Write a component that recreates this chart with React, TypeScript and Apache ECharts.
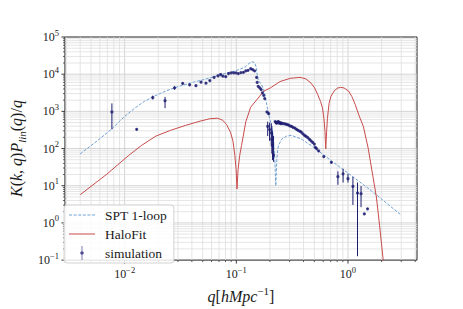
import React, { useEffect, useRef } from "react";
import * as echarts from "echarts";

// ---------- axis ranges & tick values ----------
const X_MIN = 0.00292;
const X_MAX = 4.15;
const Y_MIN = 0.1;
const Y_MAX = 1e5;
const xMajorTicks = [0.01, 0.1, 1];
const yMajorTicks = [0.1, 1, 10, 100, 1000, 10000, 100000];

// ---------- series names ----------
const seriesNames = ["SPT 1-loop", "HaloFit", "simulation"];

// ---------- SPT 1-loop (dashed blue) ----------
const sptQ = [0.004, 0.00568, 0.00769, 0.0098, 0.01231, 0.01497, 0.01786, 0.02198, 0.02762, 0.0336, 0.04136, 0.0503, 0.06036, 0.07095, 0.08173, 0.09605, 0.1084, 0.1217, 0.13, 0.139, 0.1453, 0.1507, 0.1538, 0.1575, 0.164, 0.1708, 0.1786, 0.1882, 0.1987, 0.2082, 0.2154, 0.2212, 0.2257, 0.2303, 0.2345, 0.2383, 0.2547, 0.2818, 0.3118, 0.3816, 0.4832, 0.7238, 1.084, 1.624, 2.976];
const sptV = [72.1, 161, 339, 693, 1220, 1850, 2450, 3260, 4260, 5090, 6100, 7060, 8200, 9520, 10720, 12080, 13610, 16070, 19450, 21630, 20640, 15520, 9800, 6860, 5740, 4800, 3160, 1430, 646, 394, 161, 49, 10, 49, 88.9, 120, 178, 217, 226, 181, 113, 44.8, 18.3, 7.28, 1.65];

// ---------- HaloFit (red) ----------
const haloQ = [0.004, 0.00695, 0.01078, 0.01409, 0.01908, 0.02584, 0.035, 0.0474, 0.058, 0.0681, 0.0754, 0.0817, 0.0886, 0.0932, 0.097, 0.0996, 0.1014, 0.1037, 0.1073, 0.1113, 0.1217, 0.1345, 0.1538, 0.1761, 0.2015, 0.2466, 0.3037, 0.3716, 0.4196, 0.467, 0.5031, 0.5346, 0.568, 0.5914, 0.6096, 0.6221, 0.6323, 0.6439, 0.6543, 0.6771, 0.7023, 0.7491, 0.8008, 0.856, 0.9224, 1.014, 1.084, 1.159, 1.249, 1.373, 1.519, 1.624, 1.796, 1.92, 2.057, 2.112];
const haloV = [5.74, 20.6, 64, 120, 217, 310, 418, 546, 634, 653, 580, 444, 275, 161, 66, 27, 8.2, 27, 66, 120, 530, 1295, 2120, 3500, 4260, 6350, 7730, 8200, 7500, 5740, 4260, 2860, 1850, 1220, 634, 292, 98, 292, 634, 1640, 2490, 3500, 4180, 4440, 4260, 3500, 2490, 1550, 804, 394, 100, 29.9, 5.0, 0.84, 0.115, 0.039];

// ---------- simulation (points with error bars) ----------
const simQ = [0.00769, 0.01282, 0.01786, 0.023, 0.028, 0.0331, 0.0382, 0.0435, 0.0483, 0.0535, 0.0579, 0.0632, 0.0686, 0.0724, 0.0758, 0.0804, 0.0851, 0.0899, 0.0947, 0.0994, 0.1042, 0.11, 0.1159, 0.1216, 0.1274, 0.1345, 0.1401, 0.1459, 0.152, 0.1538, 0.157, 0.1625, 0.1668, 0.1715, 0.1761, 0.1796, 0.1882, 0.1947, 0.191, 0.1986, 0.2055, 0.208, 0.2112, 0.2155, 0.2229, 0.2265, 0.2302, 0.234, 0.2382, 0.242, 0.2464, 0.2505, 0.2546, 0.263, 0.2727, 0.282, 0.2917, 0.301, 0.3119, 0.322, 0.3342, 0.346, 0.3573, 0.37, 0.3819, 0.395, 0.4087, 0.422, 0.4368, 0.452, 0.467, 0.483, 0.4995, 0.5101, 0.5236, 0.546, 0.607, 0.7098, 0.8125, 0.9036, 1.0, 1.107, 1.217, 1.309, 1.401, 1.497];
const simV = [962, 329, 2350, 1930, 4260, 5640, 5190, 4890, 6100, 5740, 6740, 8200, 9070, 9800, 8860, 8560, 10400, 10850, 10850, 10850, 10400, 11050, 11250, 12230, 12680, 14030, 13220, 12230, 8200, 5990, 4710, 4260, 3850, 3160, 2690, 2210, 962, 869, 394, 323, 264, 178, 120, 66, 530, 500, 480, 515, 530, 485, 499, 465, 480, 470, 462, 445, 436, 410, 394, 372, 356, 330, 310, 292, 275, 248, 226, 212, 196, 176, 161, 146, 132, 108, 100, 86, 61, 42.7, 17.5, 20.9, 15.5, 9.64, 6.35, 6.09, 1.75, 2.39];
const simLo = [329, 315, 2100, 1220, 3850, 5300, 4900, 4600, 5800, 5450, 6400, 7800, 8650, 9350, 8450, 8150, 9950, 10400, 10400, 10400, 9950, 10600, 10800, 11700, 12150, 13450, 12650, 11700, 7850, 5700, 4500, 4050, 3650, 3000, 2550, 2100, 900, 800, 217, 161, 120, 73, 49, 44, 500, 470, 455, 490, 500, 460, 475, 440, 455, 445, 440, 420, 415, 390, 375, 355, 340, 315, 295, 278, 262, 236, 215, 202, 187, 168, 153, 139, 126, 103, 95, 82, 58, 40.5, 10.6, 12.2, 12.2, 3.04, 0.127, 2.65, 1.68, 2.29];
const simHi = [1640, 345, 2650, 2450, 4700, 6000, 5500, 5200, 6400, 6050, 7100, 8600, 9500, 10250, 9300, 8950, 10850, 11300, 11300, 11300, 10850, 11500, 11700, 12750, 13200, 14600, 13800, 12750, 8550, 6300, 4950, 4450, 4050, 3300, 2800, 2300, 1020, 940, 530, 499, 480, 394, 292, 217, 560, 530, 505, 540, 560, 510, 525, 490, 505, 495, 485, 470, 460, 430, 415, 390, 375, 345, 325, 306, 288, 260, 237, 222, 205, 184, 169, 153, 138, 113, 105, 90, 64, 45, 24.4, 28.6, 20.9, 17.3, 12.2, 9.8, 1.82, 2.49];

// ---------- styling ----------
const SERIF = "'Liberation Serif', 'Times New Roman', serif";
const TXT = "#1a1a1a";
const SPT_COLOR = "#6fa3d4";
const HALO_COLOR = "#c84b4b";
const SIM_COLOR = "#1c1c70";
const GRID_MAJOR = "#c9c9c9";
const GRID_MINOR = "#dedede";

// legend handle shapes
const ICON_DASHED =
  "path://M0,0H3V1H0Z M4.5,0H7.5V1H4.5Z M9,0H12V1H9Z M13.5,0H16.5V1H13.5Z M18,0H21V1H18Z M22.5,0H25.5V1H22.5Z";
const ICON_SOLID = "path://M0,0H26V1H0Z";
const ICON_ERRBAR = "path://M1.6,0H2.4V16H1.6Z M2,6A2,2 0 1 1 2,10A2,2 0 1 1 2,6Z";

function minorValues(lo: number, hi: number): number[] {
  const out: number[] = [];
  for (let e = -4; e <= 5; e++) {
    for (let m = 2; m <= 9; m++) {
      const v = parseFloat((m * Math.pow(10, e)).toPrecision(6));
      if (v > lo && v < hi) out.push(v);
    }
  }
  return out;
}

const xMinorTicks = minorValues(X_MIN, X_MAX);
const yMinorTicks = minorValues(Y_MIN, Y_MAX);

function powLabel(v: number): string {
  const e = Math.log10(v);
  const r = Math.round(e);
  if (Math.abs(e - r) > 1e-6) return "";
  const s = r < 0 ? "\u2212" + -r : String(r);
  return `{b|10}{s|${s}}`;
}

const tickRich = {
  b: { fontFamily: SERIF, fontSize: 12, color: TXT, lineHeight: 18 },
  s: { fontFamily: SERIF, fontSize: 8.5, color: TXT, lineHeight: 10, verticalAlign: "top" },
};

const nameRich = {
  i: { fontFamily: SERIF, fontStyle: "italic", fontSize: 16, color: TXT, lineHeight: 22 },
  r: { fontFamily: SERIF, fontSize: 16, color: TXT, lineHeight: 22 },
  sub: { fontFamily: SERIF, fontStyle: "italic", fontSize: 11, color: TXT, lineHeight: 12, verticalAlign: "bottom" },
  sup: { fontFamily: SERIF, fontSize: 11, color: TXT, lineHeight: 12, verticalAlign: "top" },
};

export default function App() {
  const ref = useRef<HTMLDivElement>(null);

  useEffect(() => {
    if (!ref.current) return;
    const chart = echarts.init(ref.current, null, { renderer: "svg" });

    // grid lines: [x, y, kind] kind 0 = x major, 1 = x minor, 2 = y major, 3 = y minor
    const gridData: number[][] = [];
    xMajorTicks.forEach((v) => gridData.push([v, 1, 0]));
    xMinorTicks.forEach((v) => gridData.push([v, 1, 1]));
    yMajorTicks.filter((v) => v > Y_MIN && v < Y_MAX).forEach((v) => gridData.push([0.01, v, 2]));
    yMinorTicks.forEach((v) => gridData.push([0.01, v, 3]));

    const tickData: number[][] = [];
    xMajorTicks.forEach((v) => tickData.push([v, 1, 0]));
    xMinorTicks.forEach((v) => tickData.push([v, 1, 1]));
    yMajorTicks.forEach((v) => tickData.push([0.01, v, 2]));
    yMinorTicks.forEach((v) => tickData.push([0.01, v, 3]));

    const option: any = {
      animation: false,
      backgroundColor: "#ffffff",
      grid: {
        left: 57,
        right: 46,
        top: 37,
        bottom: 40,
        show: true,
        borderColor: "#222",
        borderWidth: 1,
        backgroundColor: "transparent",
      },
      legend: {
        orient: "vertical",
        left: 64,
        top: 205,
        padding: [3, 7, 3, 5],
        itemWidth: 26,
        itemHeight: 14,
        itemGap: 5,
        backgroundColor: "rgba(255,255,255,0.85)",
        borderColor: "#d2d2d2",
        borderWidth: 1,
        borderRadius: 3,
        z: 10,
        formatter: (n: string) => `{t|${n}}`,
        textStyle: {
          rich: {
            t: { fontFamily: SERIF, fontSize: 13.5, color: TXT, lineHeight: 14, padding: [0, 0, 0, 5] },
          },
        },
        data: [
          { name: seriesNames[0], icon: ICON_DASHED },
          { name: seriesNames[1], icon: ICON_SOLID },
          { name: seriesNames[2], icon: ICON_ERRBAR },
        ],
      },
      xAxis: {
        type: "log",
        logBase: 10,
        min: X_MIN,
        max: X_MAX,
        axisLine: { show: false },
        axisTick: { show: false },
        splitLine: { show: false },
        minorTick: { show: false },
        axisLabel: {
          formatter: powLabel,
          rich: tickRich,
          margin: 5,
          showMinLabel: false,
          showMaxLabel: false,
        },
        name: "{i|q}{r|[}{i|hMpc}{sup|\u22121}{r|]}",
        nameLocation: "middle",
        nameGap: 20,
        nameTextStyle: { rich: nameRich },
      },
      yAxis: {
        type: "log",
        logBase: 10,
        min: Y_MIN,
        max: Y_MAX,
        axisLine: { show: false },
        axisTick: { show: false },
        splitLine: { show: false },
        minorTick: { show: false },
        axisLabel: {
          formatter: powLabel,
          rich: tickRich,
          margin: 6,
        },
        name: "{i|K}{r|(}{i|k}{r|, }{i|q}{r|)}{i|P}{sub|lin}{r|(}{i|q}{r|)/}{i|q}",
        nameLocation: "middle",
        nameGap: 28,
        nameRotate: 90,
        nameTextStyle: { rich: nameRich },
      },
      series: [
        {
          type: "custom",
          name: "gridlines",
          silent: true,
          z: 1,
          data: gridData,
          encode: { x: 0, y: 1 },
          renderItem: (params: any, api: any) => {
            const cs = params.coordSys;
            const kind = api.value(2);
            const p = api.coord([api.value(0), api.value(1)]);
            const major = kind === 0 || kind === 2;
            const shape =
              kind < 2
                ? { x1: p[0], y1: cs.y, x2: p[0], y2: cs.y + cs.height }
                : { x1: cs.x, y1: p[1], x2: cs.x + cs.width, y2: p[1] };
            return {
              type: "line",
              shape,
              style: { stroke: major ? GRID_MAJOR : GRID_MINOR, lineWidth: 0.8 },
            };
          },
        },
        {
          type: "custom",
          name: "ticks",
          silent: true,
          z: 6,
          data: tickData,
          encode: { x: 0, y: 1 },
          renderItem: (params: any, api: any) => {
            const cs = params.coordSys;
            const kind = api.value(2);
            const p = api.coord([api.value(0), api.value(1)]);
            const len = kind === 0 || kind === 2 ? 3.5 : 2;
            const shape =
              kind < 2
                ? { x1: p[0], y1: cs.y + cs.height, x2: p[0], y2: cs.y + cs.height + len }
                : { x1: cs.x, y1: p[1], x2: cs.x - len, y2: p[1] };
            return {
              type: "line",
              shape,
              style: { stroke: "#222", lineWidth: kind === 0 || kind === 2 ? 0.9 : 0.7 },
            };
          },
        },
        {
          type: "line",
          name: seriesNames[0],
          z: 3,
          symbol: "none",
          showSymbol: false,
          data: sptQ.map((q, i) => [q, sptV[i]]),
          lineStyle: { color: SPT_COLOR, width: 1, type: [3, 1.5] },
          itemStyle: { color: SPT_COLOR },
        },
        {
          type: "line",
          name: seriesNames[1],
          z: 3,
          symbol: "none",
          showSymbol: false,
          data: haloQ.map((q, i) => [q, haloV[i]]),
          lineStyle: { color: HALO_COLOR, width: 1 },
          itemStyle: { color: HALO_COLOR },
        },
        {
          type: "custom",
          name: "simulation errors",
          silent: true,
          z: 4,
          data: simQ.map((q, i) => [q, simLo[i], simHi[i]]),
          encode: { x: 0, y: [1, 2] },
          renderItem: (params: any, api: any) => {
            const lo = api.coord([api.value(0), api.value(1)]);
            const hi = api.coord([api.value(0), api.value(2)]);
            return {
              type: "line",
              shape: { x1: lo[0], y1: lo[1], x2: hi[0], y2: hi[1] },
              style: { stroke: SIM_COLOR, lineWidth: 1 },
            };
          },
        },
        {
          type: "scatter",
          name: seriesNames[2],
          z: 5,
          symbol: "circle",
          symbolSize: 3.2,
          data: simQ.map((q, i) => [q, simV[i]]),
          itemStyle: { color: SIM_COLOR },
        },
      ],
    };

    chart.setOption(option);
    return () => chart.dispose();
  }, []);

  return (
    <div
      ref={ref}
      style={{ position: "absolute", left: 0, top: 0, width: 463, height: 309 }}
    />
  );
}
